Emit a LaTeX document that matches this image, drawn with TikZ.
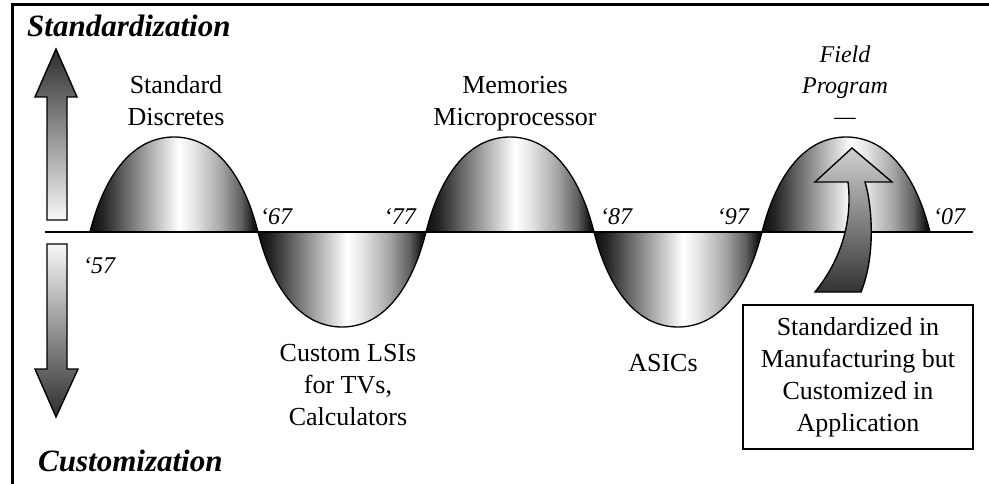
\documentclass[tikz,border=0pt]{standalone}
\usepackage{fontspec}
\setmainfont{Liberation Serif}
\pgfdeclarehorizontalshading{humpshade}{100bp}{color(0bp)=(black!95); color(25bp)=(black!95); color(29bp)=(black!85); color(37.5bp)=(black!52); color(47.5bp)=(black!15); color(51.5bp)=(white); color(56bp)=(black!10); color(64bp)=(black!35); color(70bp)=(black!62); color(73.5bp)=(black!90); color(75bp)=(black!95); color(100bp)=(black!95)}
\tikzset{
  hump/.style={draw=black, line width=1.3pt, shading=humpshade},
  fatarrow/.style={draw=black, line width=1.4pt, line join=miter},
  lbl/.style={inner sep=0pt, align=center, font=\fontsize{26}{32}\selectfont},
  ilbl/.style={inner sep=0pt, align=center, font=\fontsize{24}{31}\selectfont\itshape},
  yr/.style={inner sep=0pt, font=\fontsize{24}{28}\selectfont\itshape},
  title/.style={inner sep=0pt, font=\fontsize{31}{36}\selectfont\bfseries\itshape},
}
\begin{document}
\begin{tikzpicture}[x=1pt, y=-1pt]
\useasboundingbox (0,0) rectangle (989,484);
% frame
\draw[line width=3pt, line join=miter] (992,5) -- (12,5) -- (12,488);
% humps and dips
\foreach \c/\s in {174/1, 342/-1, 510/1, 678/-1, 846/1} {
  \draw[hump] ({\c-84},232) .. controls ({\c-71},{232-52*\s}) and ({\c-44},{232-95*\s}) .. (\c,{232-95*\s})
     .. controls ({\c+44},{232-95*\s}) and ({\c+71},{232-52*\s}) .. ({\c+84},232) -- cycle;
}
% axis
\draw[line width=2pt] (45,232) -- (973,232);
% left arrows
\draw[fatarrow, top color=black!82, bottom color=black!3]
  (47,220) -- (47,97) -- (35,97) -- (56,49) -- (77,97) -- (67,97) -- (67,220) -- cycle;
\draw[fatarrow, top color=black!3, bottom color=black!82]
  (47,244) -- (47,369) -- (35,369) -- (56,417) -- (78,369) -- (67,369) -- (67,244) -- cycle;
% curved arrow
\draw[fatarrow, top color=black!18, bottom color=black!80]
  (815,292) -- (861,292) .. controls (876,255) and (872,205) .. (865,182)
  -- (892,182) -- (852,148) -- (815,182) -- (848,182)
  .. controls (852,215) and (845,255) .. (815,292) -- cycle;
% titles
\node[title, anchor=base west] (std) at (27,37) {Standardization};
\node[title, anchor=base west] (cus) at (38,471) {Customization};
% labels
\node[lbl, anchor=north] (sd) at (176,75) {Standard\\Discretes};
\node[lbl, anchor=north] (mm) at (515,76) {Memories\\Microprocessor};
\node[ilbl, anchor=north] (fp) at (845,46) {Field\\Program\\—};
\node[lbl, anchor=north] (lsi) at (348,344.5) {Custom LSIs\\for TVs,\\Calculators};
\node[lbl, anchor=base] (asic) at (663,371) {ASICs};
\node[lbl, draw, line width=1.5pt, minimum width=230pt, minimum height=144pt] (box) at (858,377)
  {Standardized in\\Manufacturing but\\Customized in\\Application};
% years
\node[yr, anchor=base west] (y57) at (83,273) {‘57};
\node[yr, anchor=base west] (y67) at (260,225) {‘67};
\node[yr, anchor=base east] (y77) at (416,225) {‘77};
\node[yr, anchor=base west] (y87) at (600,225) {‘87};
\node[yr, anchor=base east] (y97) at (749,225) {‘97};
\node[yr, anchor=base west] (y07) at (933,225) {‘07};
\end{tikzpicture}
\end{document}
